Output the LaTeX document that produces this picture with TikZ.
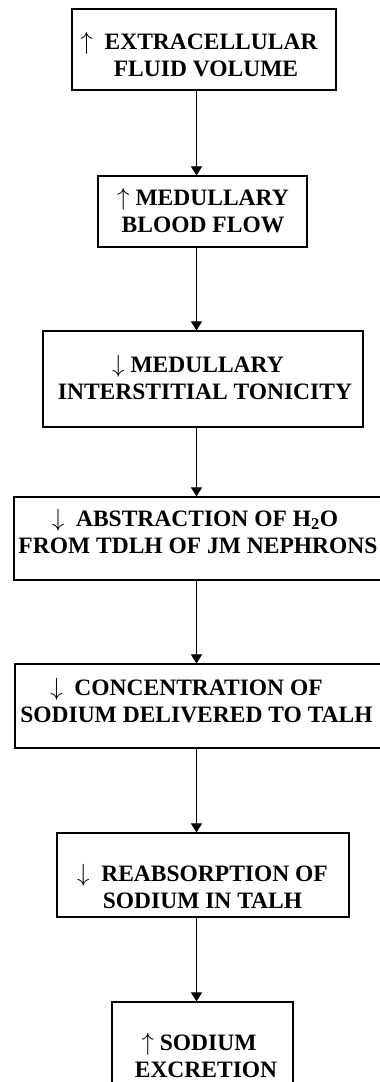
\documentclass[tikz,border=0pt]{standalone}
\usepackage{fontspec}
\setmainfont{Liberation Serif}
\usetikzlibrary{arrows.meta}
\begin{document}
\begin{tikzpicture}[x=1pt,y=-1pt,
  box/.style={draw=black,line width=1.2pt,rectangle,inner sep=0pt,fill=white},
  txt/.style={align=center,inner sep=0pt,font=\fontsize{23.5}{27}\selectfont\bfseries},
  conn/.style={line width=1pt,-{Triangle[width=11pt,length=9pt]}}]
\useasboundingbox (0,0) rectangle (380,1082);
\clip (0,0) rectangle (380,1082);
\coordinate (ax) at (196.5,0);
% boxes
\node[box,minimum width=264pt,minimum height=81pt] (b1) at (204,49.5) {};
\node[box,minimum width=209pt,minimum height=71pt] (b2) at (202.5,211.5) {};
\node[box,minimum width=320pt,minimum height=96pt] (b3) at (203,379) {};
\node[box,minimum width=370pt,minimum height=83pt] (b4) at (199,538.5) {};
\node[box,minimum width=372pt,minimum height=84pt] (b5) at (201,706) {};
\node[box,minimum width=292pt,minimum height=84pt] (b6) at (203,875) {};
\node[box,minimum width=181pt,minimum height=108pt] (b7) at (202.5,1056) {};
% texts
\node[txt] (t1) at (206,55) {$\uparrow$\ \ EXTRACELLULAR\kern14pt\\FLUID VOLUME};
\node[txt] (t2) at (203,211) {$\uparrow$ MEDULLARY\\BLOOD FLOW};
\node[txt] (t3) at (205,377.5) {$\downarrow$ MEDULLARY\kern14pt\\INTERSTITIAL TONICITY};
\node[txt] (t4) at (198,531) {$\downarrow$\ \ ABSTRACTION OF H\textsubscript{2}O\kern6pt\\FROM TDLH OF JM NEPHRONS};
\node[txt] (t5) at (196.5,701) {$\downarrow$\ \ CONCENTRATION OF\kern20pt\\SODIUM DELIVERED TO TALH};
\node[txt] (t6) at (202.5,886) {$\downarrow$\ \ REABSORPTION OF\\SODIUM IN TALH};
\node[txt] (t7) at (206,1055) {$\uparrow$ SODIUM\kern14pt\\EXCRETION};
% connectors
\draw[conn] (b1.south -| ax) -- (b2.north -| ax);
\draw[conn] (b2.south -| ax) -- (b3.north -| ax);
\draw[conn] (b3.south -| ax) -- (b4.north -| ax);
\draw[conn] (b4.south -| ax) -- (b5.north -| ax);
\draw[conn] (b5.south -| ax) -- (b6.north -| ax);
\draw[conn] (b6.south -| ax) -- (b7.north -| ax);
\end{tikzpicture}
\end{document}
